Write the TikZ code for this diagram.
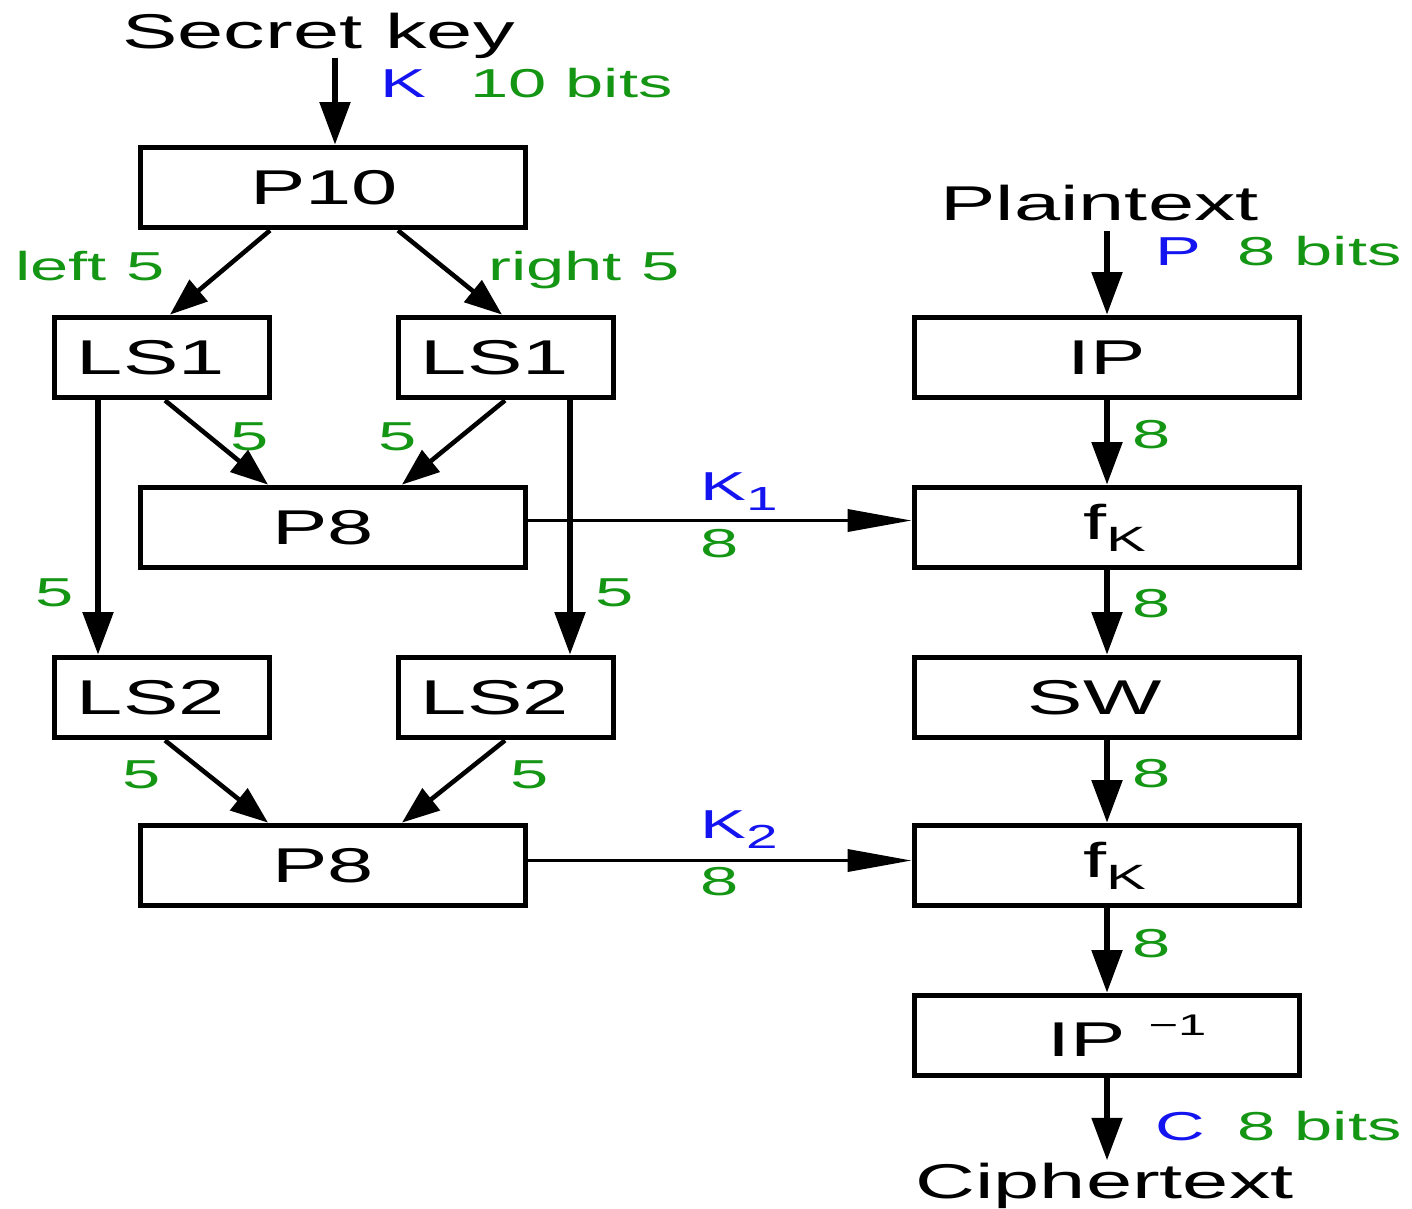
\documentclass[tikz,border=0pt]{standalone}
\usepackage{fontspec}
\setmainfont{Liberation Sans}[FakeStretch=1.7]
\usetikzlibrary{arrows.meta,calc}
\definecolor{lg}{RGB}{20,150,20}
\definecolor{lb}{RGB}{20,20,240}
\begin{document}
\begin{tikzpicture}[x=0.02cm,y=-0.02cm,
  blk/.style={draw,line width=3.3pt,minimum height=1.6cm,inner sep=0pt,font=\fontsize{27.8}{30}\selectfont},
  wideblk/.style={blk,minimum width=7.7cm},
  narrowblk/.style={blk,minimum width=4.3cm},
  ttl/.style={inner sep=0pt,anchor=base west,font=\fontsize{27.8}{30}\selectfont},
  lbl/.style={inner sep=0pt,anchor=base west,font=\fontsize{23}{26}\selectfont,text=lg},
  blbl/.style={lbl,text=lb},
  varrow/.style={line width=3pt,-{Triangle[length=0.85cm,width=0.6cm]}},
  darrow/.style={line width=2.6pt,-{Triangle[length=0.75cm,width=0.55cm]}},
  harrow/.style={line width=2pt,-{Triangle[length=1.28cm,width=0.44cm]}}]
\useasboundingbox (0,0) rectangle (1412,1208);
% boxes
\node[wideblk] (P10) at (333,187.5) {P10\kern0.35cm};
\node[narrowblk] (LS1a) at (162,357.5) {LS1\kern0.45cm};
\node[narrowblk] (LS1b) at (506,357.5) {LS1\kern0.45cm};
\node[wideblk] (P8a) at (333,527.5) {P8\kern0.4cm};
\node[narrowblk] (LS2a) at (162,697.5) {LS2\kern0.45cm};
\node[narrowblk] (LS2b) at (506,697.5) {LS2\kern0.45cm};
\node[wideblk] (P8b) at (333,865.5) {P8\kern0.4cm};
\node[wideblk] (IP) at (1107,357.5) {IP};
\node[wideblk] (fK1) at (1107,527.5) {\kern0.3cm f\raisebox{-6.8pt}{\fontsize{20}{22}\selectfont K}};
\node[wideblk] (SW) at (1107,697.5) {SW\kern0.5cm};
\node[wideblk] (fK2) at (1107,865.5) {\kern0.3cm f\raisebox{-6.8pt}{\fontsize{20}{22}\selectfont K}};
\node[wideblk] (IPinv) at (1107,1035.5) {\kern0.8cm IP\kern0.45cm\raisebox{12pt}{\fontsize{17}{19}\selectfont −1}};
% titles
\node[ttl] (sk) at (122,48) {Secret key};
\node[ttl] (pt) at (940,220) {Plaintext};
\node[ttl] (ct) at (915,1198) {Ciphertext};
% labels
\node[blbl] (kl) at (380,97) {K};
\node[lbl] (kbits) at (470,97) {10 bits};
\node[lbl] (left5) at (15,280) {left 5};
\node[lbl] (right5) at (488,280) {right 5};
\node[lbl] (f1) at (230,450) {5};
\node[lbl] (f2) at (378,450) {5};
\node[lbl] (f3) at (35,606) {5};
\node[lbl] (f4) at (595,606) {5};
\node[lbl] (f5) at (122,788) {5};
\node[lbl] (f6) at (510,788) {5};
\node[blbl] (k1) at (700,500) {K\raisebox{-0.25em}{\fontsize{19}{21}\selectfont 1}};
\node[lbl] (e1) at (700,557) {8};
\node[blbl] (k2) at (700,838) {K\raisebox{-0.25em}{\fontsize{19}{21}\selectfont 2}};
\node[lbl] (e2) at (700,895) {8};
\node[blbl] (pl) at (1155,265) {P};
\node[lbl] (pbits) at (1237,265) {8 bits};
\node[lbl] (r1) at (1132,448) {8};
\node[lbl] (r2) at (1132,617) {8};
\node[lbl] (r3) at (1132,787) {8};
\node[lbl] (r4) at (1132,957) {8};
\node[blbl] (cl) at (1155,1140) {C};
\node[lbl] (cbits) at (1237,1140) {8 bits};
% connectors, key schedule
\draw[varrow] ($(sk.south -| P10.north)+(2,0)$) -- ($(P10.north)+(2,0)$);
\draw[darrow] ($(P10.south)+(-63,0)$) -- ($(LS1a.north)+(8,0)$);
\draw[darrow] ($(P10.south)+(65,0)$) -- ($(LS1b.north)+(-4,0)$);
\draw[darrow] ($(LS1a.south)+(3,0)$) -- ($(P8a.north)+(-65,0)$);
\draw[darrow] ($(LS1b.south)+(-1,0)$) -- ($(P8a.north)+(69,0)$);
\draw[varrow] ($(LS1a.south)+(-64,0)$) -- ($(LS2a.north)+(-64,0)$);
\draw[varrow] ($(LS1b.south)+(64,0)$) -- ($(LS2b.north)+(64,0)$);
\draw[darrow] ($(LS2a.south)+(3,0)$) -- ($(P8b.north)+(-65,0)$);
\draw[darrow] ($(LS2b.south)+(-1,0)$) -- ($(P8b.north)+(69,0)$);
\draw[harrow] ($(P8a.east)+(0,-7)$) -- ($(fK1.west)+(0,-7)$);
\draw[harrow] ($(P8b.east)+(0,-5)$) -- ($(fK2.west)+(0,-5)$);
% connectors, encryption
\draw[varrow] ($(pt.south -| IP.north)+(0,10)$) -- (IP.north);
\draw[varrow] (IP.south) -- (fK1.north);
\draw[varrow] (fK1.south) -- (SW.north);
\draw[varrow] (SW.south) -- (fK2.north);
\draw[varrow] (fK2.south) -- (IPinv.north);
\draw[varrow] (IPinv.south) -- ($(IPinv.south |- ct.north)+(0,-2)$);
\end{tikzpicture}
\end{document}
